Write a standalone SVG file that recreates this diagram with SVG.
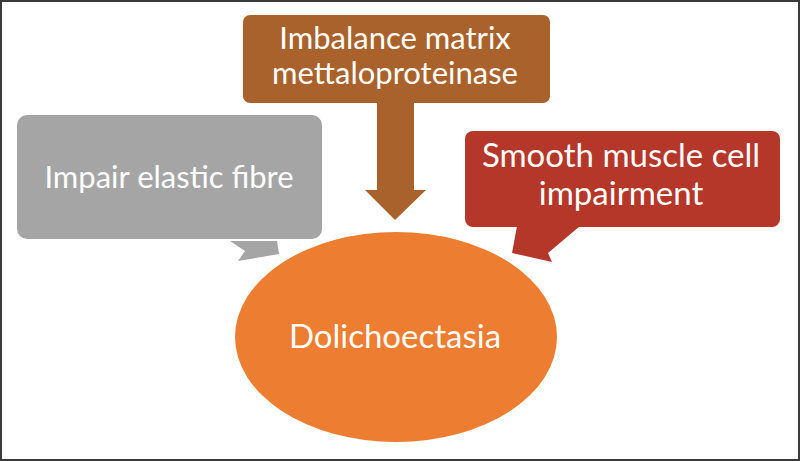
<svg xmlns="http://www.w3.org/2000/svg" width="800" height="461" viewBox="0 0 800 461">
  <style>
    .lbl { font-family: Lato, "Open Sans", "Liberation Sans", sans-serif; font-size: 31px; fill: #ffffff; text-anchor: middle; }
    .big { font-size: 33px; }
  </style>
  <rect x="0" y="0" width="800" height="461" fill="#ffffff"/>
  <rect x="1" y="1" width="798" height="459" fill="none" stroke="#3a3a3a" stroke-width="2"/>

  <g id="connectors">
    <path id="arrow-down" d="M377,103 L414,103 L414,190 L426,190 L395,220 L365,190 L377,190 Z" fill="#a9622c"/>
  </g>

  <g id="node-gray">
    <rect x="17" y="115" width="305" height="124" rx="10" ry="10" fill="#a5a5a5"/>
    <polygon points="230,241 277,241 279,254 238,261 245,251" fill="#a5a5a5"/>
    <text class="lbl" x="169" y="188">Impair elastic fibre</text>
  </g>

  <g id="node-brown">
    <rect x="243" y="15" width="307" height="88" rx="7" ry="7" fill="#a9622c"/>
    <text class="lbl" x="395" y="49">Imbalance matrix</text>
    <text class="lbl" x="395" y="84">mettaloproteinase</text>
  </g>

  <g id="node-red">
    <rect x="465" y="131" width="315" height="96" rx="8" ry="8" fill="#b5372a"/>
    <polygon points="517,226 580,226 548,253 552,262 512,253" fill="#b5372a"/>
    <text class="lbl big" x="621" y="167">Smooth muscle cell</text>
    <text class="lbl big" x="621" y="205">impairment</text>
  </g>

  <g id="node-ellipse">
    <ellipse cx="396" cy="337" rx="161" ry="105" fill="#ed7d31"/>
    <text class="lbl big" x="395" y="348">Dolichoectasia</text>
  </g>
</svg>
